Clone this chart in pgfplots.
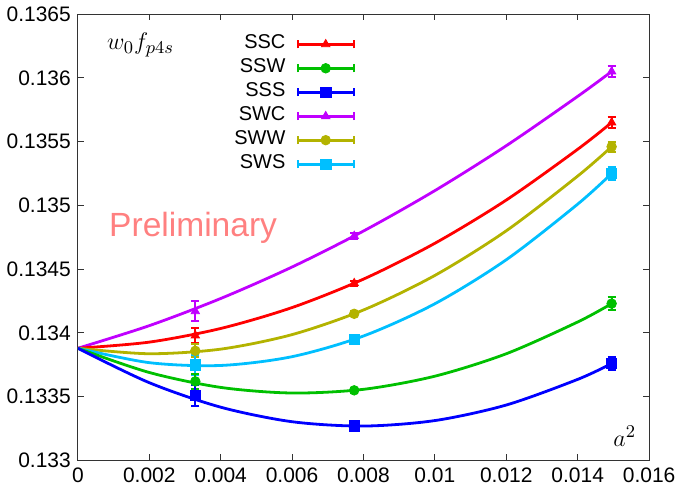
\documentclass[border=0pt]{standalone}
\usepackage{fontspec}
\setmainfont{Liberation Sans}
\usepackage{pgfplots}
\pgfplotsset{compat=1.18}
\definecolor{cSSC}{HTML}{FF0000}
\definecolor{cSSW}{HTML}{00C000}
\definecolor{cSSS}{HTML}{0000FF}
\definecolor{cSWC}{HTML}{C000FF}
\definecolor{cSWW}{HTML}{B3B300}
\definecolor{cSWS}{HTML}{00BFFF}
\definecolor{prelim}{HTML}{FF8080}
\pgfplotsset{
  sSSC/.style={color=cSSC, line width=1.4pt, mark=triangle*, mark size=2.4pt, mark options={line width=0.4pt}},
  sSSW/.style={color=cSSW, line width=1.4pt, mark=*, mark size=2.4pt, mark options={line width=0.4pt}},
  sSSS/.style={color=cSSS, line width=1.4pt, mark=square*, mark size=2.6pt, mark options={line width=0.4pt}},
  sSWC/.style={color=cSWC, line width=1.4pt, mark=triangle*, mark size=2.4pt, mark options={line width=0.4pt}},
  sSWW/.style={color=cSWW, line width=1.4pt, mark=*, mark size=2.4pt, mark options={line width=0.4pt}},
  sSWS/.style={color=cSWS, line width=1.4pt, mark=square*, mark size=2.6pt, mark options={line width=0.4pt}},
  pts/.style={only marks, forget plot, error bars/.cd, y dir=both, y explicit,
    error bar style={line width=1pt}, error mark options={rotate=90, mark size=2pt, line width=1pt}},
  fit/.style={line width=1.4pt, smooth, no marks, forget plot},
}
\begin{document}
\begin{tikzpicture}
\begin{axis}[
  scale only axis, width=286pt, height=223.5pt,
  xmin=0, xmax=0.016, ymin=0.133, ymax=0.1365,
  xtick={0,0.002,0.004,0.006,0.008,0.01,0.012,0.014,0.016},
  xticklabels={0,0.002,0.004,0.006,0.008,0.01,0.012,0.014,0.016},
  ytick={0.133,0.1335,0.134,0.1345,0.135,0.1355,0.136,0.1365},
  yticklabels={0.133,0.1335,0.134,0.1345,0.135,0.1355,0.136,0.1365},
  scaled ticks=false,
  tick label style={font=\fontsize{10.5}{12}\selectfont},
  major tick length=3pt,
  axis line style={black!80, line width=0.5pt},
  tick style={black!80, line width=0.5pt},
  legend plot pos=right,
  legend cell align=right,
  legend style={draw=none, fill=none, at={(0.486,0.96)}, anchor=north east,
    inner sep=0pt, column sep=5.5pt, row sep=0pt,
    nodes={inner sep=0pt, text height=8pt, text depth=4pt, font=\fontsize{10}{12}\selectfont}},
  legend image code/.code={
    \draw[#1] (0pt,0pt) -- (28pt,0pt);
    \draw[#1, line width=1pt] (0pt,-2pt) -- (0pt,2pt) (28pt,-2pt) -- (28pt,2pt);
    \draw[#1] plot coordinates {(14pt,0pt)};
  },
]
% fit curves
\addplot[cSWC, fit] coordinates {(0,0.13388)(0.002,0.134057)(0.004,0.13427)(0.006,0.134517)(0.008,0.134799)(0.010,0.135116)(0.012,0.135468)(0.014,0.135855)(0.01495,0.13605)};
\addplot[cSSC, fit] coordinates {(0,0.13388)(0.002,0.133928)(0.004,0.134035)(0.006,0.134199)(0.008,0.134422)(0.010,0.134703)(0.012,0.135042)(0.014,0.13544)(0.01495,0.13565)};
\addplot[cSWW, fit] coordinates {(0,0.13388)(0.002,0.133837)(0.004,0.133873)(0.006,0.133987)(0.008,0.13418)(0.010,0.134451)(0.012,0.134801)(0.014,0.13523)(0.01495,0.13546)};
\addplot[cSWS, fit] coordinates {(0,0.13388)(0.002,0.133767)(0.004,0.133745)(0.006,0.133814)(0.008,0.133976)(0.010,0.134229)(0.012,0.134574)(0.014,0.13501)(0.01495,0.13525)};
\addplot[cSSW, fit] coordinates {(0,0.13388)(0.002,0.13369)(0.004,0.133573)(0.006,0.133529)(0.008,0.133558)(0.010,0.133661)(0.012,0.133837)(0.014,0.134086)(0.01495,0.13423)};
\addplot[cSSS, fit] coordinates {(0,0.13388)(0.002,0.13361)(0.004,0.133418)(0.006,0.133304)(0.008,0.13327)(0.010,0.133313)(0.012,0.133435)(0.014,0.133636)(0.01495,0.13376)};
% data points
\addplot[sSWC, pts] coordinates {(0.00329,0.13417) +- (0,0.00008) (0.00774,0.13476) +- (0,0.00002) (0.01495,0.13605) +- (0,0.00004)};
\addplot[sSSC, pts] coordinates {(0.00329,0.13398) +- (0,0.00006) (0.00774,0.13439) +- (0,0.00002) (0.01495,0.13565) +- (0,0.00004)};
\addplot[sSWW, pts] coordinates {(0.00329,0.13386) +- (0,0.00005) (0.00774,0.13415) +- (0,0.00002) (0.01495,0.13546) +- (0,0.00004)};
\addplot[sSWS, pts] coordinates {(0.00329,0.13375) +- (0,0.00008) (0.00774,0.13395) +- (0,0.00002) (0.01495,0.13525) +- (0,0.00005)};
\addplot[sSSW, pts] coordinates {(0.00329,0.13362) +- (0,0.00006) (0.00774,0.13355) +- (0,0.00002) (0.01495,0.13423) +- (0,0.00005)};
\addplot[sSSS, pts] coordinates {(0.00329,0.13351) +- (0,0.00008) (0.00774,0.13327) +- (0,0.00002) (0.01495,0.13376) +- (0,0.00005)};
% legend
\addlegendimage{sSSC}\addlegendentry{SSC}
\addlegendimage{sSSW}\addlegendentry{SSW}
\addlegendimage{sSSS}\addlegendentry{SSS}
\addlegendimage{sSWC}\addlegendentry{SWC}
\addlegendimage{sSWW}\addlegendentry{SWW}
\addlegendimage{sSWS}\addlegendentry{SWS}
% annotations
\node[anchor=base west, inner sep=0pt, font=\fontsize{12.5}{15}\selectfont] at (axis cs:0.00081,0.136222) {$w_0 f_{p4s}$};
\node[anchor=base west, inner sep=0pt, font=\fontsize{12.5}{15}\selectfont] at (axis cs:0.01499,0.133113) {$a^2$};
\node[anchor=base west, inner sep=0pt, text=prelim, font=\fontsize{16.8}{20}\selectfont] at (axis cs:0.000867,0.134757) {Preliminary};
\end{axis}
\end{tikzpicture}
\end{document}
